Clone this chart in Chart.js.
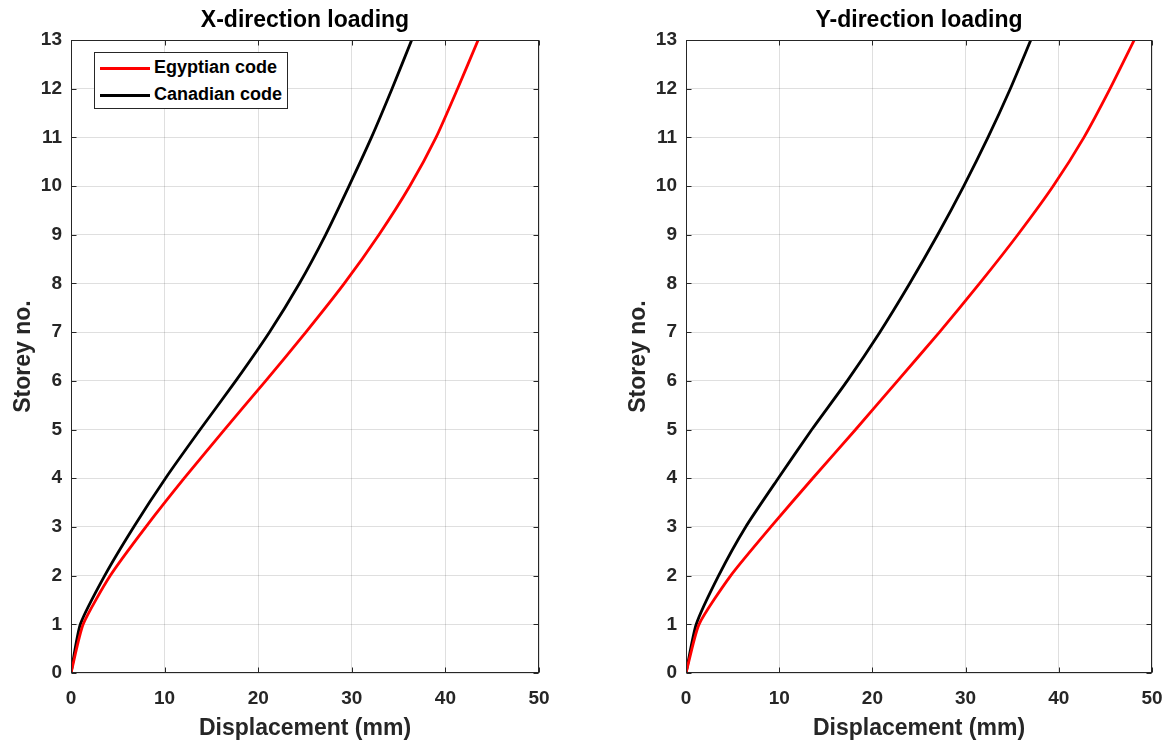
<!DOCTYPE html>
<html>
<head>
<meta charset="utf-8">
<script src="https://cdn.jsdelivr.net/npm/chart.js@4/dist/chart.umd.min.js"></script>
<style>
  html, body { margin: 0; padding: 0; background: #fff; }
  #wrap { position: relative; width: 1168px; height: 742px; overflow: hidden; }
  canvas { position: absolute; top: 0; }
  .legend {
    position: absolute; box-sizing: border-box; width: 194px; height: 57px;
    border: 1px solid #262626; background: #fff; padding: 1px 0 0 5px;
    font: bold 18px "Liberation Sans", Arial, sans-serif; color: #000;
  }
  .legend .row { height: 27px; line-height: 27px; white-space: nowrap; }
  .legend .swatch { display: inline-block; width: 50px; height: 3px; vertical-align: middle; margin-right: 4px; }
</style>
</head>
<body>
<div id="wrap">
  <canvas id="chartX" width="564" height="742" style="left:0"></canvas>
  <canvas id="chartY" width="562" height="742" style="left:615px"></canvas>
  <div class="legend" style="left:94px;top:52px">
    <div class="row"><span class="swatch" style="background:#ff0000"></span>Egyptian code</div>
    <div class="row"><span class="swatch" style="background:#000000"></span>Canadian code</div>
  </div>
</div>
<script>
// storey numbers (y axis)
const storeys = [0, 1, 2, 3, 4, 5, 6, 7, 8, 9, 10, 11, 12, 13];

// displacement (mm), X-direction loading
const xEgyptian = [0, 1.3, 4.2, 8.0, 12.1, 16.4, 20.8, 25.1, 29.2, 32.9, 36.2, 39.0, 41.3, 43.5];
const xCanadian = [0, 1.0, 3.6, 6.7, 10.1, 13.8, 17.6, 21.2, 24.4, 27.2, 29.7, 32.1, 34.3, 36.4];

// displacement (mm), Y-direction loading
const yEgyptian = [0, 1.4, 4.8, 9.1, 13.6, 18.2, 22.7, 27.2, 31.5, 35.6, 39.4, 42.7, 45.5, 48.1];
const yCanadian = [0, 1.1, 3.5, 6.4, 9.9, 13.5, 17.3, 20.8, 24.0, 27.0, 29.8, 32.4, 34.8, 37.0];

const FONT = '"Liberation Sans", Arial, sans-serif';
const AXIS = '#262626';
const GRID = 'rgba(38,38,38,0.15)';

// MATLAB-like box with inward ticks on all four sides
const boxTicks = {
  id: 'boxTicks',
  afterDraw(chart) {
    const { ctx, chartArea: a, scales } = chart;
    const L = Math.round(a.left) + 0.5, R = Math.round(a.right) - 0.5;
    const T = Math.round(a.top) + 0.5, B = Math.round(a.bottom) - 0.5;
    ctx.save();
    ctx.strokeStyle = AXIS;
    ctx.lineWidth = 1;
    ctx.strokeRect(L, T, R - L, B - T);
    ctx.beginPath();
    scales.x.ticks.forEach(t => {
      const px = Math.round(scales.x.getPixelForValue(t.value)) + 0.5;
      ctx.moveTo(px, B); ctx.lineTo(px, B - 5);
      ctx.moveTo(px, T); ctx.lineTo(px, T + 5);
    });
    scales.y.ticks.forEach(t => {
      const py = Math.round(scales.y.getPixelForValue(t.value)) + 0.5;
      ctx.moveTo(L, py); ctx.lineTo(L + 5, py);
      ctx.moveTo(R, py); ctx.lineTo(R - 5, py);
    });
    ctx.stroke();
    ctx.restore();
  }
};

function toPoints(disp) {
  return disp.map((d, i) => ({ x: d, y: storeys[i] }));
}

function makeChart(id, title, egyptian, canadian) {
  new Chart(document.getElementById(id).getContext('2d'), {
    type: 'scatter',
    data: {
      datasets: [
        { label: 'Egyptian code', data: toPoints(egyptian), borderColor: '#ff0000', backgroundColor: '#ff0000',
          showLine: true, pointRadius: 0, borderWidth: 2.8, tension: 0.2 },
        { label: 'Canadian code', data: toPoints(canadian), borderColor: '#000000', backgroundColor: '#000000',
          showLine: true, pointRadius: 0, borderWidth: 2.8, tension: 0.2 }
      ]
    },
    options: {
      responsive: false,
      animation: false,
      devicePixelRatio: 1,
      layout: { padding: { left: 0, right: 25, top: 0, bottom: 0 } },
      plugins: { legend: { display: false }, tooltip: { enabled: false } },
      scales: {
        x: {
          type: 'linear', position: 'bottom', min: 0, max: 50,
          ticks: { stepSize: 10, color: AXIS, padding: 14, font: { family: FONT, size: 19, weight: 'bold' } },
          grid: { color: GRID, drawTicks: false },
          border: { display: false },
          title: { display: true, text: 'Displacement (mm)', color: AXIS, padding: { top: 0, bottom: 0 },
                   font: { family: FONT, size: 23, weight: 'bold' } },
          afterFit: s => { s.height = 69; }
        },
        top: {
          type: 'linear', position: 'top', min: 0, max: 50,
          ticks: { display: false },
          grid: { display: false },
          border: { display: false },
          title: { display: true, text: title, color: '#000', padding: { top: 7, bottom: 0 },
                   font: { family: FONT, size: 23, weight: 'bold' } },
          afterFit: s => { s.height = 40; }
        },
        y: {
          type: 'linear', position: 'left', min: 0, max: 13,
          ticks: { stepSize: 1, color: AXIS, padding: 9, font: { family: FONT, size: 19, weight: 'bold' } },
          grid: { color: GRID, drawTicks: false },
          border: { display: false },
          title: { display: true, text: 'Storey no.', color: AXIS, padding: { top: 10, bottom: 0 },
                   font: { family: FONT, size: 23, weight: 'bold' } },
          afterFit: s => { s.width = 71; }
        }
      }
    },
    plugins: [boxTicks]
  });
}

makeChart('chartX', 'X-direction loading', xEgyptian, xCanadian);
makeChart('chartY', 'Y-direction loading', yEgyptian, yCanadian);
</script>
</body>
</html>
